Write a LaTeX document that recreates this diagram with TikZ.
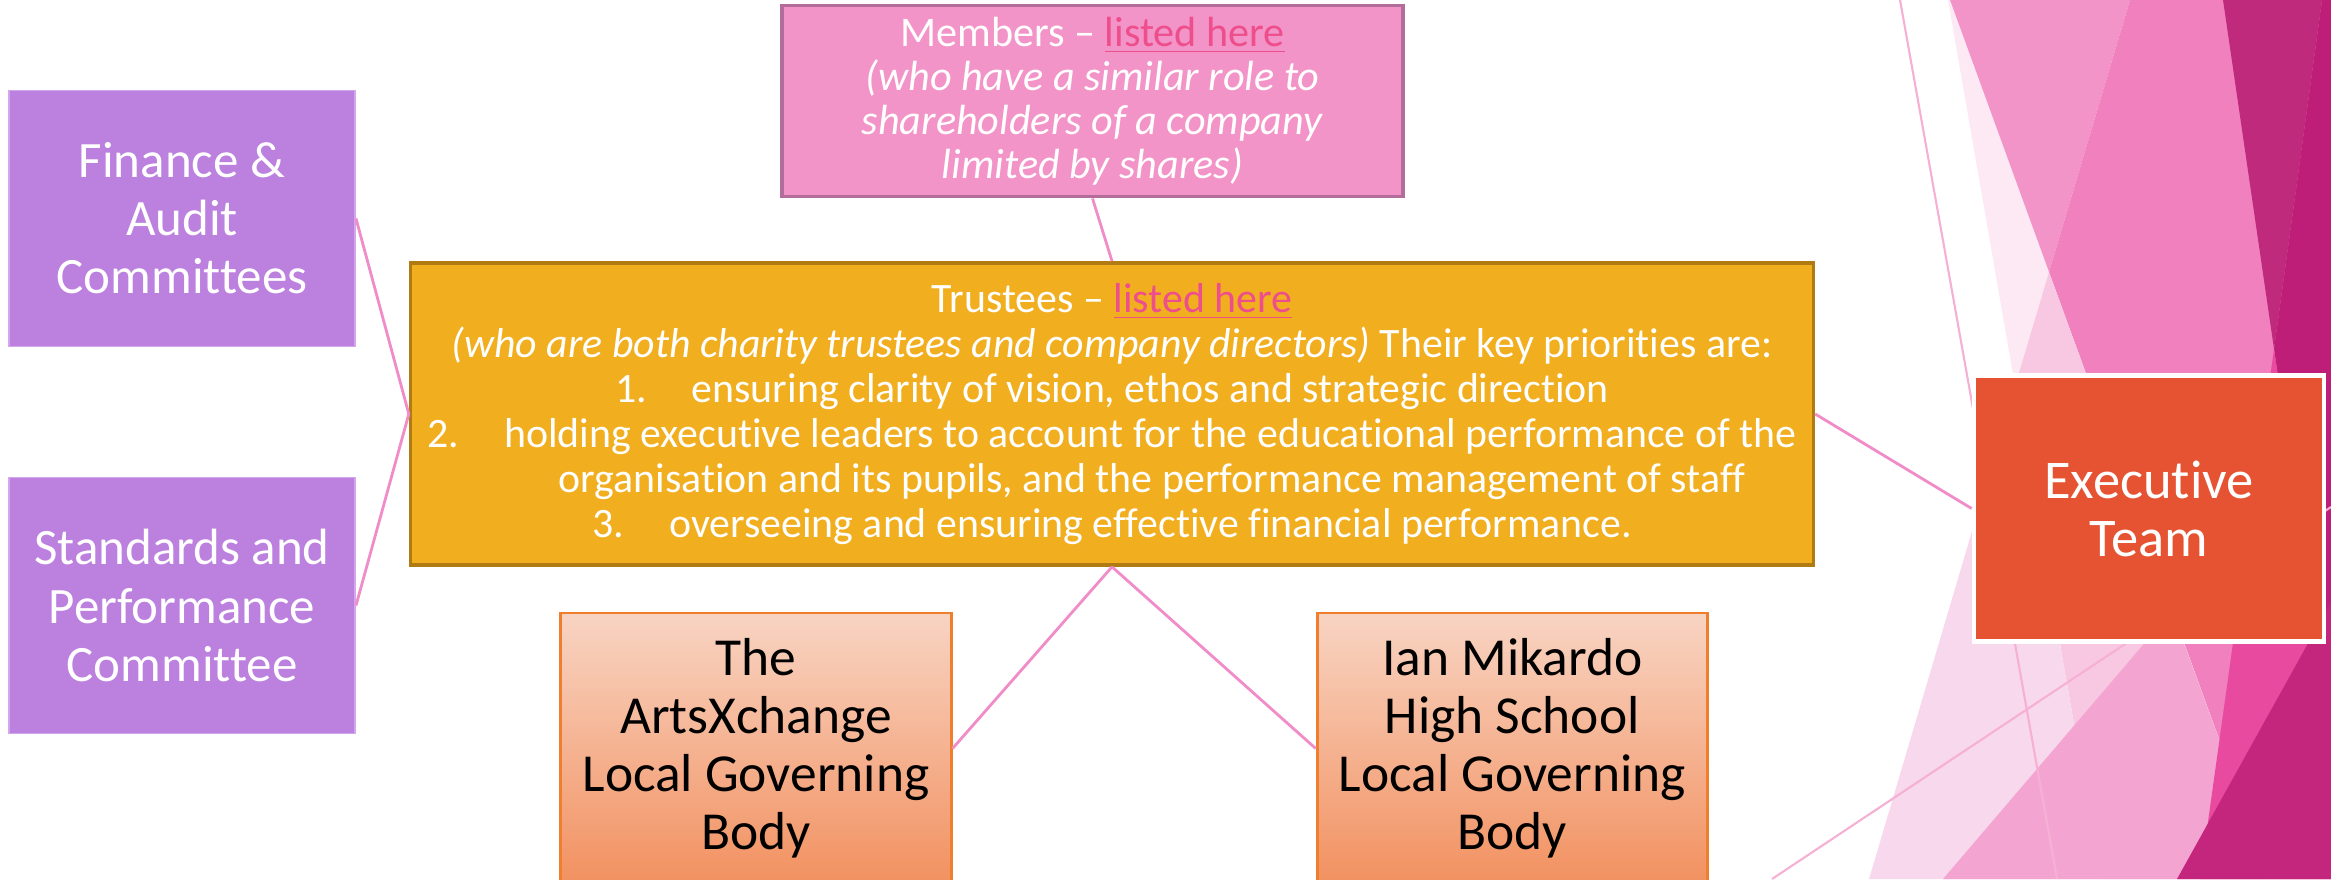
\documentclass[tikz,border=0pt]{standalone}
\usepackage{fontspec}
\setmainfont{Carlito}[Ligatures={TeX,NoCommon}]
\usetikzlibrary{positioning}

\definecolor{memberfill}{HTML}{F394C8}
\definecolor{memberedge}{HTML}{B36D9A}
\definecolor{trusteefill}{HTML}{F1AE1F}
\definecolor{trusteeedge}{HTML}{B07B13}
\definecolor{committeefill}{HTML}{BC80DF}
\definecolor{committeeedge}{HTML}{D4A6EE}
\definecolor{lgbtop}{HTML}{F8D4C3}
\definecolor{lgbbottom}{HTML}{F29160}
\definecolor{lgbedge}{HTML}{F07F2D}
\definecolor{execfill}{HTML}{E65332}
\definecolor{linkpink}{HTML}{F08CC8}
\definecolor{hyperpink}{HTML}{EE4E8C}
\definecolor{decoline}{HTML}{F6B0D6}
\definecolor{facetpale}{HTML}{FCE9F3}
\definecolor{facetlight}{HTML}{F8D8EC}
\definecolor{facetmix}{HTML}{F8C8E2}
\definecolor{facetmid}{HTML}{F394C8}
\definecolor{facetrose}{HTML}{F080BE}
\definecolor{facetsoft}{HTML}{F4A4D0}
\definecolor{facetplum}{HTML}{BF2A7C}
\definecolor{facetberry}{HTML}{BE1E78}
\definecolor{facethot}{HTML}{E84AA0}
\definecolor{facetdeep}{HTML}{C4267E}

\newcommand{\listedlink}[1]{\textcolor{hyperpink}{\underline{#1}}}

\begin{document}
\begin{tikzpicture}[
    x=0.01cm, y=-0.01cm,
    node distance=1cm,
    member/.style={rectangle, minimum width=6.21cm, minimum height=1.88cm, align=center, draw=memberedge, fill=memberfill, text=white, line width=1pt, font=\fontsize{12}{12.5}\selectfont},
    trustee/.style={rectangle, minimum width=14.02cm, minimum height=3.02cm, align=center, draw=trusteeedge, fill=trusteefill, text=white, line width=1pt, font=\fontsize{11.9}{12.8}\selectfont},
    committee/.style={rectangle, minimum width=3.46cm, minimum height=2.56cm, align=center, draw=committeeedge, fill=committeefill, text=white, line width=0.5pt, font=\fontsize{14.5}{16.5}\selectfont},
    governing/.style={rectangle, minimum width=3.9cm, minimum height=2.71cm, align=center, draw=lgbedge, top color=lgbtop, bottom color=lgbbottom, text=black, line width=0.8pt, font=\fontsize{15.2}{16.5}\selectfont},
    executive/.style={rectangle, minimum width=3.5cm, minimum height=2.66cm, align=center, draw=white, fill=execfill, text=white, line width=1.3pt, font=\fontsize{15.5}{16.5}\selectfont},
    link/.style={draw=linkpink, line width=0.8pt},
    deco/.style={draw=decoline, line width=0.6pt}
]
\useasboundingbox (0,0) rectangle (2331,879);

% Background facets
\fill[facetpale] (1948,0) -- (1950,0) -- (2049,272) -- (2015,386) -- cycle;
\fill[facetmid] (1950,0) -- (2130,0) -- (2049,272) -- cycle;
\fill[facetrose] (2130,0) -- (2331,0) -- (2331,879) -- (2270,879) -- (2049,272) -- cycle;
\fill[facetmix] (2049,272) -- (2270,879) -- (2101,879) -- (2015,386) -- cycle;
\fill[facetlight] (2015,386) -- (2101,879) -- (1869,879) -- cycle;
\fill[facetsoft] (2172,611) -- (2270,879) -- (1943,879) -- cycle;
\fill[facetplum] (2223,0) -- (2322,0) -- (2274,349) -- cycle;
\fill[facetberry] (2322,0) -- (2331,0) -- (2331,745) -- (2274,349) -- cycle;
\fill[facethot] (2274,349) -- (2331,745) -- (2331,879) -- (2200,879) -- cycle;
\fill[facetdeep] (2331,602) -- (2331,879) -- (2177,879) -- cycle;
\draw[deco] (1900,0) -- (2057,879);
\draw[deco] (1772,879) -- (2331,507);

% Top: members and trustees
\node[member] (members) at (1092.5,101) {Members – \listedlink{listed here}\\
    \textit{(who have a similar role to}\\
    \textit{shareholders of a company}\\
    \textit{limited by shares)}};
\node[trustee] (trustees) at (1112,414) {Trustees – \listedlink{listed here}\\
    \textit{(who are both charity trustees and company directors)} Their key priorities are:\\
    1.\hspace{0.45cm}ensuring clarity of vision, ethos and strategic direction\\
    2.\hspace{0.45cm}holding executive leaders to account for the educational performance of the\\
    \hspace*{0.8cm}organisation and its pupils, and the performance management of staff\\
    3.\hspace{0.45cm}overseeing and ensuring effective financial performance.};

% Left column: committees
\node[committee] (finance) at (182,218.5) {Finance \&\\Audit\\Committees};
\node[committee, below=1.29cm of finance] (standards) {Standards and\\Performance\\Committee};

% Bottom row: local governing bodies
\node[governing] (arts) at (756,748.5) {The\\ArtsXchange\\Local Governing\\Body};
\node[governing, right=3.63cm of arts] (ian) {Ian Mikardo\\High School\\Local Governing\\Body};

% Right: executive team
\node[executive] (exec) at (2149,508.5) {Executive\\Team};

% Connectors
\draw[link] (members.south) -- (trustees.north);
\draw[link] (finance.east) -- (trustees.west);
\draw[link] (standards.east) -- (trustees.west);
\draw[link] (trustees.south) -- (arts.east);
\draw[link] (trustees.south) -- (ian.west);
\draw[link] (trustees.east) -- (exec.west);

\end{tikzpicture}
\end{document}
